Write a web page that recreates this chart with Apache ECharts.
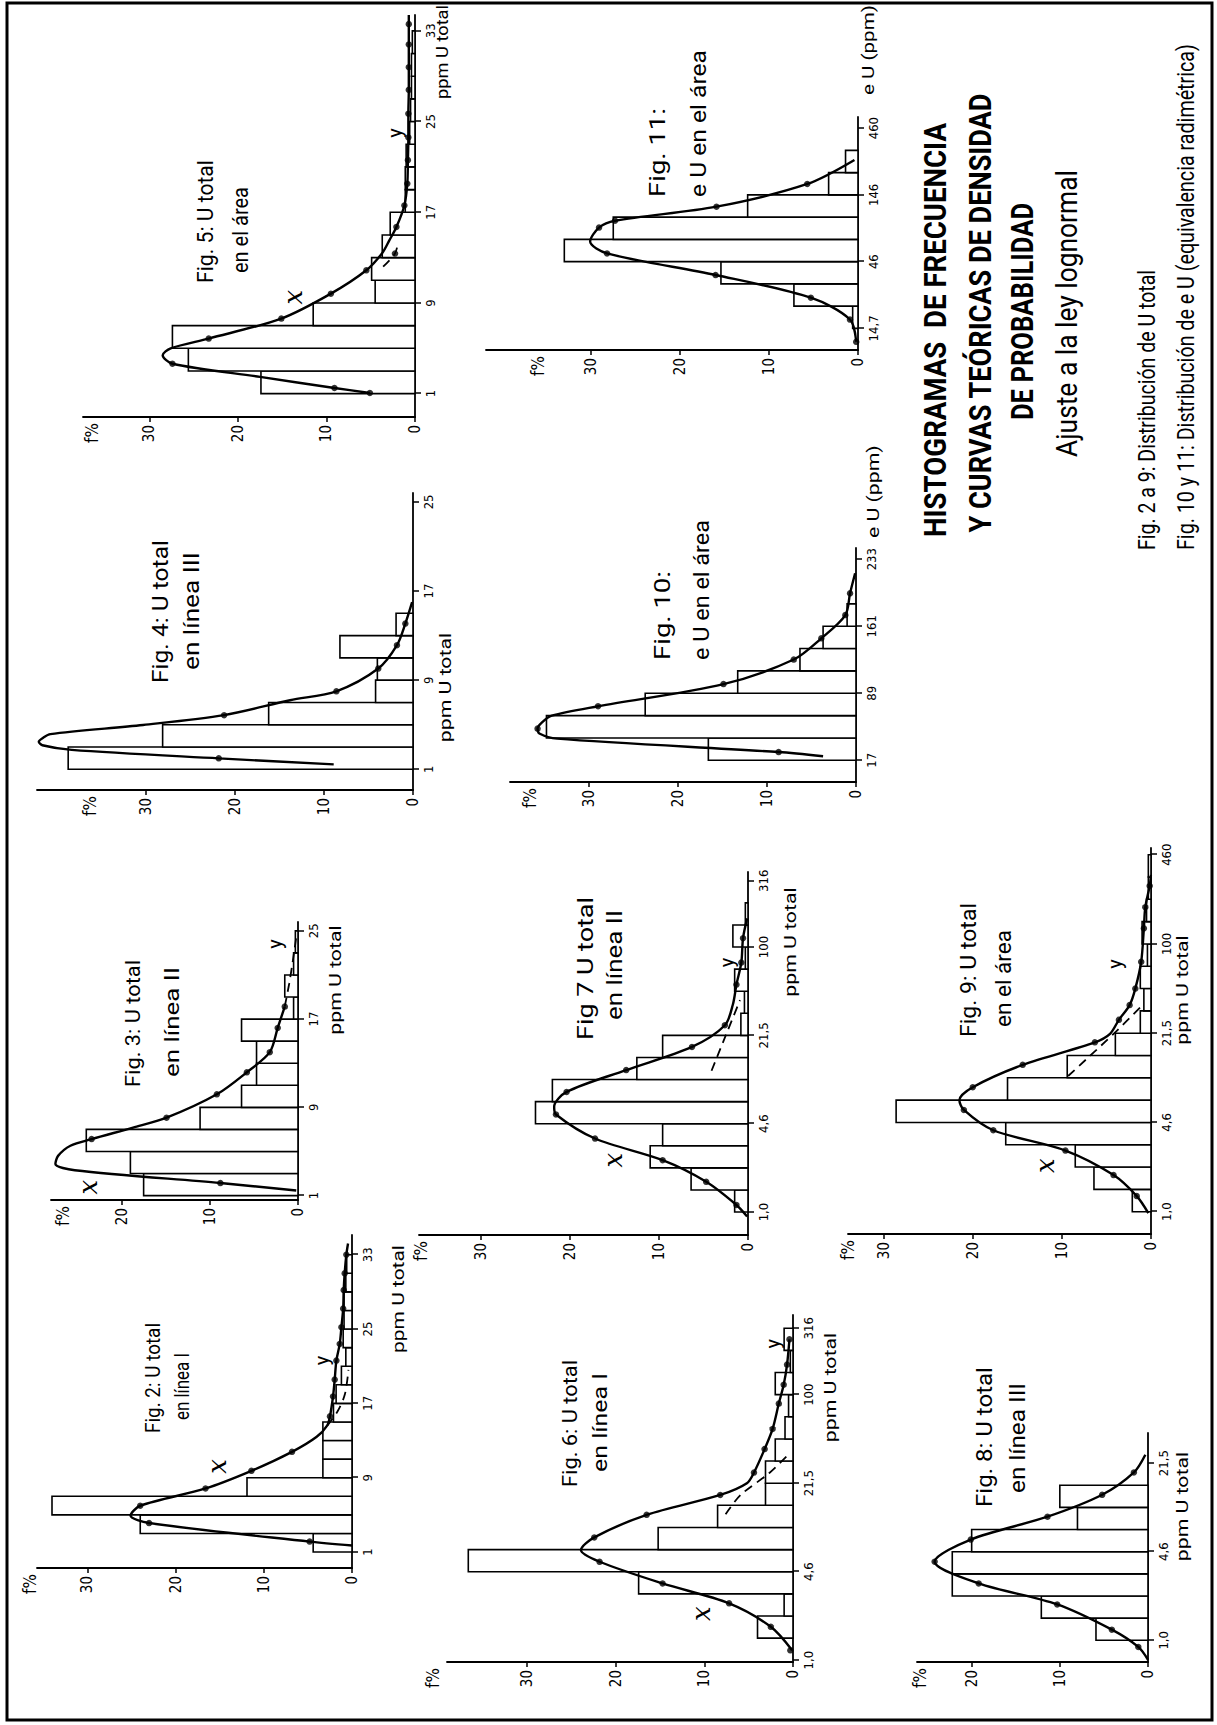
<!DOCTYPE html>
<html><head><meta charset="utf-8">
<script src="https://cdn.jsdelivr.net/npm/echarts@6/dist/echarts.min.js"></script>
<style>
html,body{margin:0;padding:0;background:#fff;overflow:hidden;width:1217px;height:1725px;}
#wrap{position:absolute;left:0;top:0;width:1725px;height:1217px;transform-origin:0 0;transform:translate(0px,1725px) rotate(-90deg);}
#chart{width:1725px;height:1217px;background:#fff;}
</style></head><body><div id="wrap"><div id="chart"></div></div>
<script>
// ---------------- DATA (x in histogram-class units, f in %) ----------------
const yTicks30 = [0,10,20,30];
const yTicks20 = [0,10,20];

// Fig 2
const fig2Ticks = [0,4,8,12,16];
const fig2TickLabels = ['1','9','17','25','33'];
const fig2Bars = [4.4,24.0,34.0,11.9,3.3,3.3,3.3,2.1,1.8,1.2,0.7,1.0,0.9,0.9,0.7,0.6];
const fig2Curve = [[0.35,0],[0.56,4.8],[1.56,23.0],[1.96,25.1],[2.49,24.0],[3.42,16.6],[4.37,11.4],[5.39,6.8],[6.2,4.0],[6.82,2.8],[7.3,2.5],[8.37,2.15],[9.28,1.96],[10.3,1.77],[11.2,1.39],[12.1,1.2],[13.1,1.0],[14.1,0.94],[15.0,0.83],[16.0,0.64],[16.6,0.45]];
const fig2Dots = [[0.56,4.8],[1.56,23.0],[2.49,24.0],[3.42,16.6],[4.37,11.4],[5.39,6.8],[7.3,2.5],[8.37,2.15],[9.28,1.96],[10.3,1.77],[11.2,1.39],[12.1,1.2],[13.1,1.0],[14.1,0.94],[15.0,0.83],[16.0,0.64]];
const fig2Tail = [[6.8,2.8],[7.6,1.6],[8.5,0.8],[9.8,0.4]];

// Fig 3
const fig3Ticks = [0,4,8,12];
const fig3TickLabels = ['1','9','17','25'];
const fig3Bars = [17.5,19.0,24.0,11.1,6.4,4.7,4.7,6.4,0.5,1.5,0.5,0.3];
const fig3Curve = [[0.23,0.2],[0.57,8.8],[1.15,25.3],[1.43,27.5],[1.8,27.2],[2.26,25.8],[2.56,23.4],[3.08,18.7],[3.53,14.9],[4.59,9.2],[5.59,5.8],[6.5,3.2],[7.6,2.3],[8.57,1.5]];
const fig3Dots = [[0.57,8.8],[2.56,23.4],[3.53,14.9],[4.59,9.2],[5.59,5.8],[6.5,3.2],[7.6,2.3],[8.57,1.5]];
const fig3Tail = [[8.57,1.5],[9.6,1.0],[10.6,0.6],[11.7,0.2]];

// Fig 4
const fig4Ticks = [0,4,8,12];
const fig4TickLabels = ['1','9','17','25'];
const fig4Bars = [38.7,28.1,16.2,4.2,4.0,8.2,1.9];
const fig4Curve = [[0.22,8.9],[0.49,21.8],[0.87,38.3],[1.08,41.6],[1.24,42.0],[1.42,41.5],[1.58,40.7],[1.99,30.3],[2.43,21.2],[3.1,13.8],[3.5,8.6],[4.52,3.9],[5.57,1.8],[6.54,0.86],[7.5,0.1]];
const fig4Dots = [[0.49,21.8],[2.43,21.2],[3.5,8.6],[4.52,3.9],[5.57,1.8],[6.54,0.86]];
const fig4Tail = [];

// Fig 5
const fig5Ticks = [0,4,8,12,16];
const fig5TickLabels = ['1','9','17','25','33'];
const fig5Bars = [17.4,25.6,27.4,11.5,4.5,4.9,3.7,2.8,1.1,1.1,1.0,0.6,0.5,0.4,0.4,0.3];
const fig5Curve = [[0.03,5.1],[0.25,9.1],[0.74,17.5],[1.32,27.4],[1.69,28.5],[2.0,27.6],[2.43,23.3],[3.31,15.1],[4.41,9.5],[5.44,5.5],[6.2,3.7],[6.76,2.9],[7.35,2.1],[8.3,1.2],[9.26,0.87],[10.3,0.8],[11.3,0.75],[12.35,0.75],[13.4,0.7],[14.4,0.7],[15.4,0.7],[16.3,0.7],[16.7,0.7]];
const fig5Dots = [[0.03,5.1],[0.25,9.1],[1.32,27.4],[2.43,23.3],[3.31,15.1],[4.41,9.5],[5.44,5.5],[6.18,2.26],[7.35,2.1],[8.3,1.2],[9.26,0.87],[10.3,0.8],[11.3,0.75],[12.35,0.75],[13.4,0.7],[14.4,0.7],[15.4,0.7],[16.3,0.7]];
const fig5Tail = [[5.6,3.6],[6.18,2.26],[6.7,1.9]];

// Fig 6
const fig6Ticks = [0,4,8,12,15];
const fig6TickLabels = ['1,0','4,6','21,5','100','316'];
const fig6Bars = [0,4.0,1.0,17.4,36.6,15.2,8.5,3.1,3.1,2.0,0.9,0.5,2.0,0.3,1.0];
const fig6Curve = [[0.45,0.1],[1.51,2.5],[2.57,7.2],[3.47,14.7],[4.45,21.8],[4.98,23.9],[5.55,22.4],[6.57,16.5],[7.47,8.2],[8.0,5.2],[8.48,4.4],[9.54,3.2],[10.45,2.3],[11.6,1.6],[12.45,1.05],[13.36,0.67],[14.5,0.4]];
const fig6Dots = [[0.45,0.3],[1.51,2.5],[2.57,7.2],[3.47,14.7],[4.45,21.8],[5.55,22.4],[6.57,16.5],[7.47,8.2],[8.48,4.4],[9.54,3.2],[10.45,2.3],[11.6,1.6],[12.45,1.05],[13.36,0.67],[14.5,0.4]];
const fig6Tail = [[6.6,7.6],[7.47,5.9],[8.45,2.7],[9.35,0.4]];

// Fig 7
const fig7Ticks = [0,4,8,12,15];
const fig7TickLabels = ['1,0','4,6','21,5','100','316'];
const fig7Bars = [1.5,6.4,11.0,9.6,23.9,22.0,12.5,9.6,0.8,0.4,1.5,0.3,1.7,0.3];
const fig7Curve = [[-0.2,0.1],[0.32,1.3],[1.37,4.7],[2.35,9.6],[3.33,17.2],[4.42,21.6],[4.77,21.8],[5.44,20.4],[6.43,13.7],[7.48,6.3],[8.46,2.6],[9.4,1.7],[10.3,1.3],[11.3,0.75],[12.4,0.56],[13.3,0.1]];
const fig7Dots = [[0.32,1.3],[1.37,4.7],[2.35,9.6],[3.33,17.2],[4.42,21.6],[5.44,20.4],[6.43,13.7],[7.48,6.3],[8.46,2.6],[10.3,1.3],[11.3,0.75],[12.4,0.56]];
const fig7Tail = [[6.4,4.1],[7.9,2.6],[9.6,0.9]];

// Fig 8
const fig8Ticks = [0,4,8];
const fig8TickLabels = ['1,0','4,6','21,5'];
const fig8Bars = [5.9,12.1,22.2,22.2,20.0,8.0,10.0];
const fig8Curve = [[-0.88,0],[-0.3,1.1],[0.48,4.1],[1.62,10.3],[2.57,19.2],[3.55,24.2],[4.55,20.1],[5.58,11.4],[6.57,5.2],[7.58,1.6],[8.38,0.3]];
const fig8Dots = [[-0.3,1.1],[0.48,4.1],[1.62,10.3],[2.57,19.2],[3.55,24.2],[4.55,20.1],[5.58,11.4],[6.57,5.2],[7.58,1.6]];
const fig8Tail = [];

// Fig 9
const fig9Ticks = [0,4,8,12,16];
const fig9TickLabels = ['1,0','4,6','21,5','100','460'];
const fig9Bars = [2.1,6.4,8.5,16.3,28.6,16.1,9.4,4.0,1.2,0.8,1.2,0.4,1.0,0.5,0.3,0.3];
const fig9Curve = [[-0.06,0.3],[0.7,1.6],[1.64,4.2],[2.74,9.6],[3.65,17.7],[4.56,21.0],[5.0,21.5],[5.58,20.0],[6.58,14.4],[7.59,6.3],[7.97,4.6],[8.6,3.6],[9.26,2.4],[10.0,1.76],[11.2,1.1],[12.7,0.8],[13.65,0.64],[14.6,0.15],[15.1,0]];
const fig9Dots = [[0.7,1.6],[1.64,4.2],[2.74,9.6],[3.65,17.7],[4.56,21.0],[5.58,20.0],[6.58,14.4],[7.59,6.3],[8.6,3.6],[9.26,2.4],[10.0,1.76],[11.2,1.1],[12.7,0.8],[13.65,0.64],[14.6,0.15]];
const fig9Tail = [[6.08,9.3],[7.97,4.2],[9.24,1.0]];

// Fig 10
const fig10Ticks = [0,3,6,9];
const fig10TickLabels = ['17','89','161','233'];
const fig10Bars = [16.6,34.8,23.7,13.3,6.3,3.7,1.0];
const fig10Curve = [[0.18,3.7],[0.37,8.7],[0.97,33.6],[1.2,35.6],[1.42,35.8],[1.7,35.3],[2.0,34.2],[2.42,29.0],[3.41,14.9],[4.51,7.0],[5.46,3.9],[6.5,1.2],[7.47,0.67],[8.37,0.1]];
const fig10Dots = [[0.37,8.7],[1.42,35.8],[2.42,29.0],[3.41,14.9],[4.51,7.0],[5.46,3.9],[6.5,1.2],[7.47,0.67]];
const fig10Tail = [];

// Fig 11
const fig11Ticks = [0,3,6,9];
const fig11TickLabels = ['14,7','46','146','460'];
const fig11Bars = [0.6,7.2,15.4,33.0,27.5,12.4,3.3,1.4];
const fig11Curve = [[-0.6,0.2],[0.4,0.9],[1.38,5.3],[2.4,16.0],[3.37,28.2],[3.9,30.1],[4.53,29.1],[4.84,27.3],[5.47,15.9],[6.49,5.7],[7.57,0.4]];
const fig11Dots = [[-0.6,0.2],[0.4,0.9],[1.38,5.3],[2.4,16.0],[3.37,28.2],[4.53,29.1],[4.84,27.3],[5.47,15.9],[6.49,5.7]];
const fig11Tail = [];

// ---------------- LAYOUT (landscape page, rotated by CSS) ----------------
const figs = [
 {grid:[157,37,333,315], xr:[-0.86,17.06], yMax:35.7, yT:yTicks30, xT:fig2Ticks, xL:fig2TickLabels, bars:fig2Bars, curve:fig2Curve, dots:fig2Dots, tail:fig2Tail, fGap:7, marks:[['x',4.6,15.3],['y',10.3,3.4]]},
 {grid:[525,51,278,247], xr:[-0.2,12.4], yMax:28, yT:yTicks20, xT:fig3Ticks, xL:fig3TickLabels, bars:fig3Bars, curve:fig3Curve, dots:fig3Dots, tail:fig3Tail, fGap:-12, marks:[['x',0.38,23.8],['y',11.4,2.6]]},
 {grid:[935,37,297,376], xr:[-0.93,12.4], yMax:42.2, yT:yTicks30, xT:fig4Ticks, xL:fig4TickLabels, bars:fig4Bars, curve:fig4Curve, dots:fig4Dots, tail:fig4Tail, fGap:-53, marks:[]},
 {grid:[1308,83,402,332], xr:[-1.03,16.7], yMax:37.5, yT:yTicks30, xT:fig5Ticks, xL:fig5TickLabels, bars:fig5Bars, curve:fig5Curve, dots:fig5Dots, tail:fig5Tail, fGap:-9, marks:[['x',4.26,13.8],['y',11.5,2.3]]},
 {grid:[63,447,347,346], xr:[-0.08,15.6], yMax:39, yT:yTicks30, xT:fig6Ticks, xL:fig6TickLabels, bars:fig6Bars, curve:fig6Curve, dots:fig6Dots, tail:fig6Tail, fGap:14, marks:[['x',2.1,10.4],['y',14.3,2.2]]},
 {grid:[490,419,363,329], xr:[-1.04,15.4], yMax:37, yT:yTicks30, xT:fig7Ticks, xL:fig7TickLabels, bars:fig7Bars, curve:fig7Curve, dots:fig7Dots, tail:fig7Tail, fGap:-2, marks:[['x',2.35,15.2],['y',11.3,2.4]]},
 {grid:[943,510,234,346], xr:[-0.97,9.5], yMax:38.9, yT:yTicks30, xT:fig10Ticks, xL:fig10TickLabels, bars:fig10Bars, curve:fig10Curve, dots:fig10Dots, tail:fig10Tail, fGap:-20, marks:[]},
 {grid:[1375,486,233,372], xr:[-0.97,9.5], yMax:41.8, yT:yTicks30, xT:fig11Ticks, xL:fig11TickLabels, bars:fig11Bars, curve:fig11Curve, dots:fig11Dots, tail:fig11Tail, fGap:-52, marks:[]},
 {grid:[63,917,229,231], xr:[-0.98,9.36], yMax:26.2, yT:yTicks20, xT:fig8Ticks, xL:fig8TickLabels, bars:fig8Bars, curve:fig8Curve, dots:fig8Dots, tail:fig8Tail, fGap:-3, marks:[]},
 {grid:[491,848,386,303], xr:[-1.0,16.3], yMax:34, yT:yTicks30, xT:fig9Ticks, xL:fig9TickLabels, bars:fig9Bars, curve:fig9Curve, dots:fig9Dots, tail:fig9Tail, fGap:0, marks:[['x',2.06,11.9],['y',11.1,4.0]]}
];

const texts = [
 {t:'Fig. 2: U total', x0:292, x1:402, y:153, size:21},
 {t:'en línea I', x0:305, x1:372, y:182, size:21},
 {t:'Fig. 3: U total', x0:638, x1:765, y:133, size:21},
 {t:'en línea II', x0:648, x1:758, y:172, size:21},
 {t:'Fig. 4: U total', x0:1042, x1:1185, y:160, size:22},
 {t:'en línea III', x0:1055, x1:1173, y:192, size:22},
 {t:'Fig. 5: U total', x0:1442, x1:1565, y:205, size:22},
 {t:'en el área', x0:1452, x1:1538, y:240, size:22},
 {t:'Fig. 6: U total', x0:238, x1:365, y:570, size:21},
 {t:'en línea I', x0:253, x1:352, y:600, size:21},
 {t:'Fig 7 U total', x0:685, x1:828, y:585, size:22},
 {t:'en línea II', x0:705, x1:815, y:615, size:22},
 {t:'Fig. 8: U total', x0:218, x1:358, y:985, size:22},
 {t:'en línea III', x0:232, x1:342, y:1017, size:22},
 {t:'Fig. 9: U total', x0:688, x1:822, y:968, size:22},
 {t:'en el área', x0:698, x1:795, y:1003, size:22},
 {t:'Fig. 10:', x0:1065, x1:1162, y:662, size:22, align:'left'},
 {t:'e U en el área', x0:1065, x1:1205, y:702, size:22, align:'left'},
 {t:'Fig. 11:', x0:1528, x1:1625, y:657, size:22, align:'left'},
 {t:'e U en el área', x0:1528, x1:1675, y:698, size:22, align:'left'},
 {t:'ppm U total', x0:372, x1:480, y:398, size:17},
 {t:'ppm U total', x0:690, x1:800, y:335, size:17},
 {t:'ppm U total', x0:975, x1:1100, y:445, size:17},
 {t:'ppm U total', x0:1626, x1:1720, y:442, size:16},
 {t:'ppm U total', x0:270, x1:405, y:830, size:17},
 {t:'ppm U total', x0:718, x1:848, y:790, size:17},
 {t:'ppm U total', x0:155, x1:282, y:1182, size:17},
 {t:'ppm U total', x0:672, x1:798, y:1182, size:17},
 {t:'e U (ppm)', x0:1187, x1:1282, y:873, size:17, align:'left'},
 {t:'e U (ppm)', x0:1630, x1:1720, y:868, size:17, align:'left'},
 {t:'HISTOGRAMAS  DE FRECUENCIA', x0:1188, x1:1602, y:935, size:32, weight:'bold'},
 {t:'Y CURVAS TEÓRICAS DE DENSIDAD', x0:1192, x1:1632, y:980, size:32, weight:'bold'},
 {t:'DE PROBABILIDAD', x0:1305, x1:1522, y:1022, size:32, weight:'bold'},
 {t:'Ajuste a la ley lognormal', x0:1268, x1:1555, y:1067, size:30},
 {t:'Fig. 2 a 9: Distribución de U total', x0:1175, x1:1455, y:1147, size:24, align:'left'},
 {t:'Fig. 10 y 11: Distribución de e U (equivalencia radimétrica)', x0:1175, x1:1681, y:1186, size:24, align:'left'}
];

// ---------------- BUILD ----------------
const TXT = 'Roboto';
const AXF = "'Liberation Sans Narrow','DejaVu Sans Condensed',Roboto,sans-serif";
const mctx = document.createElement('canvas').getContext('2d');
function scaleFor(t){
  mctx.font = (t.weight||'normal') + ' ' + t.size + 'px ' + TXT;
  const w = mctx.measureText(t.t).width || 1;
  return Math.min((t.x1 - t.x0) / w, 1.25);
}
const graphic = [{type:'rect', shape:{x:5,y:7,width:1717,height:1205}, style:{fill:'none', stroke:'#000', lineWidth:3}, z:100}];
texts.forEach(t=>{
  const left = t.align === 'left';
  graphic.push({type:'text', x: left ? t.x0 : (t.x0+t.x1)/2, y: t.y, scaleX: scaleFor(t), z:100,
    style:{text:t.t, fontSize:t.size, fontFamily:TXT, fontWeight:t.weight||'normal', fill:'#000', align:left?'left':'center', verticalAlign:'middle'}});
});

const grid=[], xAxis=[], yAxis=[], series=[];
figs.forEach((f,i)=>{
  grid.push({left:f.grid[0], top:f.grid[1], width:f.grid[2], height:f.grid[3], containLabel:false});
  xAxis.push({gridIndex:i, type:'value', min:f.xr[0], max:f.xr[1],
    axisLine:{show:true, onZero:false, lineStyle:{color:'#000', width:1.8}},
    axisTick:{show:true, customValues:f.xT, length:6, lineStyle:{color:'#000', width:1.5}},
    axisLabel:{show:true, customValues:f.xT, formatter:(v)=>{const k=f.xT.indexOf(v); return k>=0?f.xL[k]:'';}, color:'#000', fontSize:13, margin:9, fontFamily:AXF},
    splitLine:{show:false}});
  yAxis.push({gridIndex:i, type:'value', min:0, max:f.yMax, name:'f%', nameLocation:'end', nameGap:f.fGap,
    nameTextStyle:{color:'#000', fontSize:17, fontFamily:AXF, align:'right', verticalAlign:'middle', padding:[0,6,0,0]},
    axisLine:{show:true, onZero:false, lineStyle:{color:'#000', width:1.8}},
    axisTick:{show:true, customValues:f.yT, length:5, lineStyle:{color:'#000', width:1.5}},
    axisLabel:{show:true, customValues:f.yT, color:'#000', fontSize:15, margin:8, fontFamily:AXF},
    splitLine:{show:false}});
  series.push({type:'custom', xAxisIndex:i, yAxisIndex:i, clip:false, silent:true, z:2,
    data:f.bars.map((h,k)=>[k,h]), encode:{x:0,y:1},
    renderItem:(p,api)=>{
      const k=api.value(0), h=api.value(1);
      if(!(h>0)) return null;
      const a=api.coord([k,h]), b=api.coord([k+1,0]);
      return {type:'rect', shape:{x:a[0], y:a[1], width:b[0]-a[0], height:b[1]-a[1]},
        style:{fill:'#fff', stroke:'#000', lineWidth:1.6}};
    }});
  series.push({type:'line', xAxisIndex:i, yAxisIndex:i, data:f.curve, smooth:0.3, symbol:'none', silent:true, z:4,
    lineStyle:{color:'#000', width:2.4}});
  if(f.tail.length) series.push({type:'line', xAxisIndex:i, yAxisIndex:i, data:f.tail, smooth:0.3, symbol:'none', silent:true, z:3,
    lineStyle:{color:'#000', width:1.8, type:[9,6]}});
  series.push({type:'scatter', xAxisIndex:i, yAxisIndex:i, data:f.dots, symbol:'circle', symbolSize:6.5, silent:true, z:5,
    itemStyle:{color:'#000'}});
  if(f.marks.length) series.push({type:'custom', xAxisIndex:i, yAxisIndex:i, clip:false, silent:true, z:6,
    data:f.marks.map(m=>[m[1],m[2]]), encode:{x:0,y:1},
    renderItem:(p,api)=>{
      const c=api.coord([api.value(0),api.value(1)]);
      const t=f.marks[p.dataIndex][0];
      return {type:'text', x:c[0], y:c[1], style:{text:t, fill:'#000', align:'center', verticalAlign:'middle',
        fontSize: t==='x'?26:20, fontFamily: t==='x'?"'DejaVu Serif',serif":TXT, fontStyle: t==='x'?'italic':'normal'}};
    }});
});

const chart = echarts.init(document.getElementById('chart'), null, {renderer:'svg', width:1725, height:1217});
chart.setOption({backgroundColor:'#fff', animation:false, grid, xAxis, yAxis, series, graphic});
</script></body></html>
